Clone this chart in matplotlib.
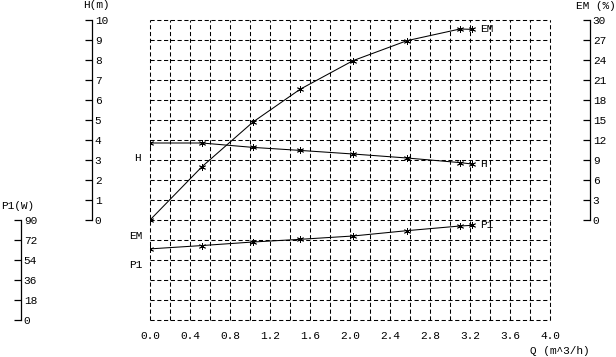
import numpy as np
import matplotlib
matplotlib.use("Agg")
import matplotlib.pyplot as plt

plt.rcParams['font.family'] = ['Liberation Mono', 'DejaVu Sans Mono']

# pump curve readings
q = [0.0, 0.52, 1.03, 1.5, 2.03, 2.57, 3.1, 3.22]
head = [3.85, 3.85, 3.63, 3.48, 3.3, 3.1, 2.87, 2.8]
eff = [0.0, 8.0, 14.7, 19.6, 23.9, 26.9, 28.65, 28.6]
power = [64.0, 67.0, 70.2, 72.6, 75.6, 80.4, 84.6, 85.2]

q_ticks = np.arange(0, 4.01, 0.4)
h_ticks = np.arange(0, 11, 1)
em_ticks = np.arange(0, 31, 3)
p_ticks = np.arange(0, 91, 18)

W, H = 616, 357
fig = plt.figure(figsize=(W / 100, H / 100), dpi=100)
ax = fig.add_axes([150 / W, (H - 320) / H, 400 / W, 300 / H])
ax.set_xlim(0, 4)
ax.set_ylim(-5, 10)
for s in ax.spines.values():
    s.set_visible(False)
ax.set_xticks(q_ticks)
ax.set_xticklabels(['%.1f' % t for t in q_ticks])
ax.set_xticks(np.arange(0, 4.01, 0.2), minor=True)
ax.set_yticks(np.arange(-5, 11, 1))
ax.tick_params(axis='x', which='both', length=0, pad=8, labelsize=8)
ax.tick_params(axis='y', which='both', length=0, labelleft=False)
ax.grid(True, which='both', color='black', linewidth=0.75, linestyle=(0, (4, 2.5)))
for gl in ax.get_xgridlines() + ax.get_ygridlines():
    gl.set_clip_on(False)
for t in ax.xaxis.get_minor_ticks():
    t.gridline.set_clip_on(False)


def side_axis(lims, pos, bounds, ticks):
    a = ax.twinx()
    a.set_ylim(*lims)
    for k, s in a.spines.items():
        s.set_visible(k == 'right')
    a.spines['right'].set_position(('axes', pos))
    a.spines['right'].set_bounds(*bounds)
    a.spines['right'].set_linewidth(0.9)
    a.set_yticks(ticks)
    a.tick_params(axis='y', direction='in', length=5, pad=2, labelsize=8, width=0.9)
    return a


ax_h = side_axis((-5, 10), (92 - 150) / 400, (0, 10), h_ticks)
ax_em = side_axis((-15, 30), (590 - 150) / 400, (0, 30), em_ticks)
ax_p = side_axis((0, 270), (21 - 150) / 400, (0, 90), p_ticks)

style = dict(color='black', linewidth=0.75, marker=(6, 2, 0), markersize=5, markeredgewidth=0.6)
ax_h.plot(q, head, **style)
ax_em.plot(q, eff, **style)
ax_p.plot(q, power, **style)

fs = 8
ax_h.annotate('H', (q[0], head[0]), xytext=(-9, -15), textcoords='offset pixels', ha='right', va='center', fontsize=fs)
ax_em.annotate('EM', (q[0], eff[0]), xytext=(-8, -16), textcoords='offset pixels', ha='right', va='center', fontsize=fs)
ax_p.annotate('P1', (q[0], power[0]), xytext=(-8, -16), textcoords='offset pixels', ha='right', va='center', fontsize=fs)
ax_h.annotate('H', (q[-1], head[-1]), xytext=(8, 0), textcoords='offset pixels', ha='left', va='center', fontsize=fs)
ax_em.annotate('EM', (q[-1], eff[-1]), xytext=(8, 0), textcoords='offset pixels', ha='left', va='center', fontsize=fs)
ax_p.annotate('P1', (q[-1], power[-1]), xytext=(8, 0), textcoords='offset pixels', ha='left', va='center', fontsize=fs)

fig.text(96 / W, 1 - 5 / H, 'H(m)', ha='center', va='center', fontsize=fs)
fig.text(596 / W, 1 - 6 / H, 'EM (%)', ha='center', va='center', fontsize=fs)
fig.text(18 / W, 1 - 206 / H, 'P1(W)', ha='center', va='center', fontsize=fs)
fig.text(530 / W, 1 - 351 / H, 'Q (m^3/h)', ha='left', va='center', fontsize=fs)

fig.savefig('out.png', dpi=100, facecolor='white')
